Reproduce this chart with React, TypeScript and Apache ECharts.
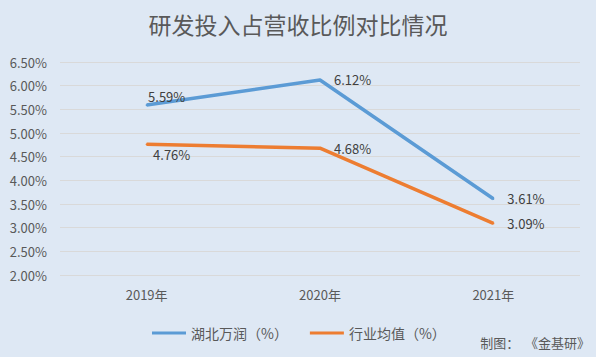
import React, { useEffect, useRef } from "react";
import * as echarts from "echarts";

const categories = ["2019年", "2020年", "2021年"];
const seriesNames = ["湖北万润（%）", "行业均值（%）"];
const wanrun = [5.59, 6.12, 3.61];
const industry = [4.76, 4.68, 3.09];

export default function App() {
  const ref = useRef<HTMLDivElement>(null);
  useEffect(() => {
    document.body.style.margin = "0";
    const chart = echarts.init(ref.current!, null, { renderer: "svg" });
    const font = "'Noto Sans CJK SC', 'Microsoft YaHei', sans-serif";
    const lbl = (pos: any, offset: number[]) => ({
      show: true,
      position: pos,
      offset,
      color: "#404040",
      fontSize: 13,
      fontFamily: font,
      formatter: (p: any) => p.value.toFixed(2) + "%",
    });
    chart.setOption({
      animation: false,
      backgroundColor: "#dee8f4",
      textStyle: { fontFamily: font },
      title: {
        text: "研发投入占营收比例对比情况",
        left: "center",
        top: 7,
        textStyle: { fontSize: 23, fontWeight: "normal", color: "#595959", fontFamily: font },
      },
      graphic: [
        {
          type: "text",
          right: 6,
          top: 336,
          style: { text: "制图：  《金基研》", fontSize: 13, fill: "#595959", fontFamily: font },
        },
      ],
      legend: {
        top: 321,
        left: 147,
        itemGap: 22,
        itemWidth: 34,
        itemHeight: 3,
        icon: "rect",
        textStyle: { fontSize: 14, color: "#595959", fontFamily: font },
        data: seriesNames,
      },
      grid: { left: 60, right: 16, top: 62, bottom: 82, containLabel: false },
      xAxis: {
        type: "category",
        data: categories,
        boundaryGap: true,
        axisLine: { show: false },
        axisTick: { show: false },
        axisLabel: { color: "#595959", fontSize: 13, margin: 13, fontFamily: font },
      },
      yAxis: {
        type: "value",
        min: 2,
        max: 6.5,
        interval: 0.5,
        axisLine: { show: false },
        axisTick: { show: false },
        splitLine: { lineStyle: { color: "#d9d9d9", width: 1 } },
        axisLabel: {
          color: "#595959",
          fontSize: 13,
          margin: 13,
          fontFamily: font,
          formatter: (v: number) => v.toFixed(2) + "%",
        },
      },
      series: [
        {
          name: seriesNames[0],
          type: "line",
          data: wanrun.map((v, i) => ({
            value: v,
            label: i === 0 ? lbl("top", [20, 4]) : lbl("right", [8, 0]),
          })),
          symbol: "circle",
          symbolSize: 2,
          showSymbol: true,
          lineStyle: { color: "#5b9bd5", width: 3.5 },
          itemStyle: { color: "#5b9bd5" },
        },
        {
          name: seriesNames[1],
          type: "line",
          data: industry.map((v, i) => ({
            value: v,
            label: i === 0 ? lbl("bottom", [25, -2]) : lbl("right", [8, 0]),
          })),
          symbol: "circle",
          symbolSize: 2,
          showSymbol: true,
          lineStyle: { color: "#ed7d31", width: 3.5 },
          itemStyle: { color: "#ed7d31" },
        },
      ],
    });
    return () => chart.dispose();
  }, []);
  return <div ref={ref} style={{ width: 596, height: 357 }} />;
}
